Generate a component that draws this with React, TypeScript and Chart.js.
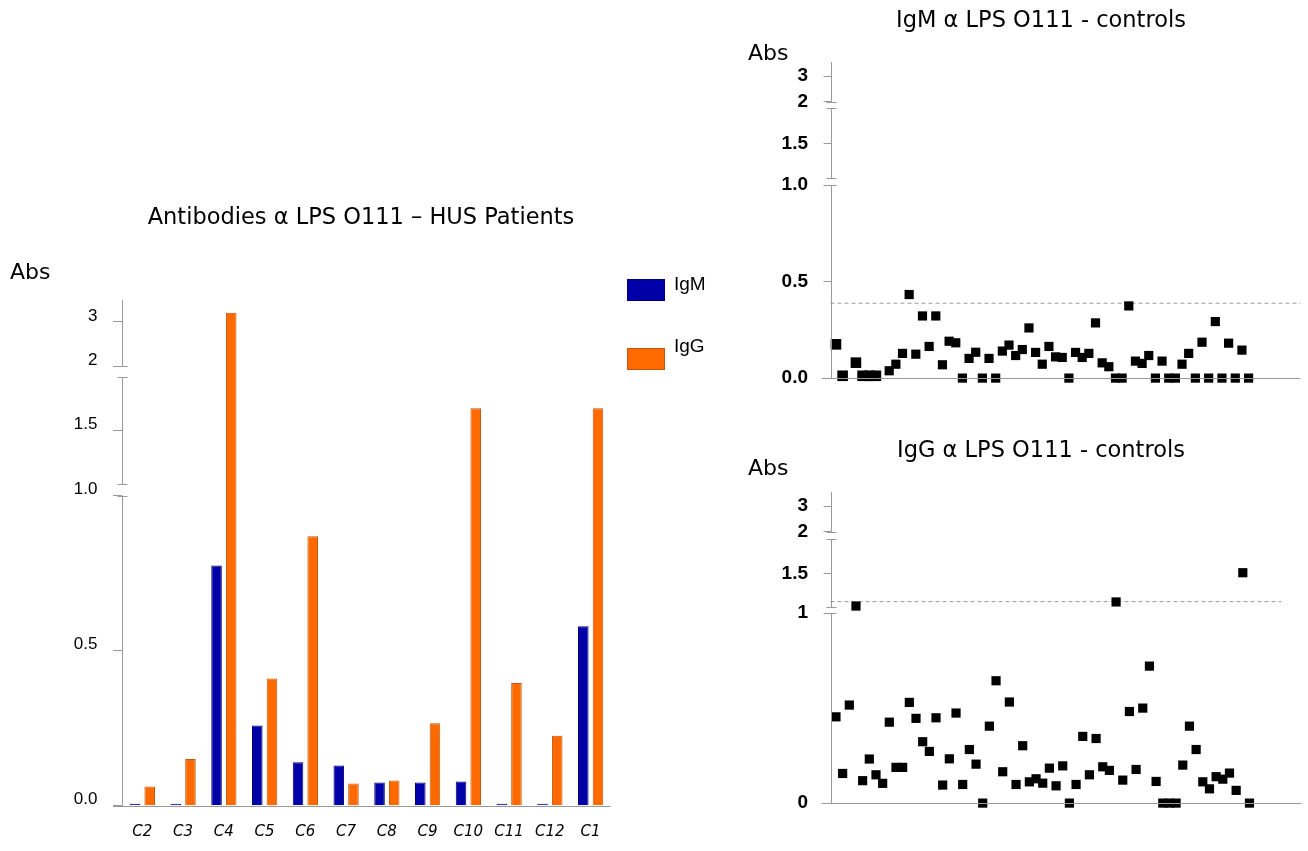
import React, { useEffect, useRef } from 'react';
import { Chart, registerables } from 'chart.js';

Chart.register(...registerables);

// ---------------- DATA ----------------
const patients = ['C2', 'C3', 'C4', 'C5', 'C6', 'C7', 'C8', 'C9', 'C10', 'C11', 'C12', 'C1'];
const patientIgM = [0, 0, 0.775, 0.259, 0.14, 0.13, 0.075, 0.075, 0.078, 0, 0, 0.579];
const patientIgG = [0.062, 0.151, 3.21, 0.41, 0.869, 0.072, 0.081, 0.266, 1.71, 0.396, 0.226, 1.71];

const leftTickValues = [0, 0.5, 1.0, 1.5, 2, 3];
const leftTickLabels = ['0.0', '0.5', '1.0', '1.5', '2', '3'];

// controls, one entry per subject (null = no point)
const controlIgM = [
  0.175, 0.012, null, 0.08, 0.012, 0.012, 0.012, null, 0.038, 0.072,
  0.128, 0.433, 0.124, 0.322, 0.164, 0.322, 0.069, 0.191, 0.183, 0,
  0.102, 0.134, 0, 0.102, 0, 0.14, 0.171, 0.117, 0.148, 0.26,
  0.133, 0.072, 0.164, 0.11, 0.107, 0, 0.133, 0.107, 0.128, 0.286,
  0.079, 0.059, 0, 0, 0.374, 0.088, 0.076, 0.117, 0, 0.088,
  0, 0, 0.072, 0.128, 0, 0.186, 0, 0.293, 0, 0.181,
  0, 0.145, 0,
];
const controlIgG = [
  0.454, 0.156, 0.516, 1.02, 0.118, 0.232, 0.149, 0.104, 0.426, 0.188,
  0.188, 0.53, 0.446, 0.323, 0.272, 0.449, 0.095, 0.233, 0.474, 0.098,
  0.282, 0.205, 0, 0.405, 0.644, 0.165, 0.532, 0.098, 0.302, 0.112,
  0.128, 0.105, 0.184, 0.091, 0.196, 0, 0.098, 0.351, 0.149, 0.34,
  0.191, 0.172, 1.08, 0.121, 0.482, 0.177, 0.5, 0.721, 0.114, 0,
  0, 0, 0.2, 0.405, 0.282, 0.112, 0.075, 0.139, 0.126, 0.158,
  0.067, 1.51, 0,
];
const igmCutoff = 0.388;
const iggCutoff = 1.085;

const igmTickValues = [0, 0.5, 1.0, 1.5, 2, 3];
const igmTickLabels = ['0.0', '0.5', '1.0', '1.5', '2', '3'];
const iggTickValues = [0, 1, 1.5, 2, 3];
const iggTickLabels = ['0', '1', '1.5', '2', '3'];

// ---------------- BROKEN AXIS HELPERS ----------------
type Seg = { v0: number; v1: number; u0: number; u1: number };

const leftSegs: Seg[] = [
  { v0: 0, v1: 1, u0: 0, u1: 310 },
  { v0: 1, v1: 2, u0: 321.7, u1: 428.4 },
  { v0: 2, v1: 3.5, u0: 439.7, u1: 505.7 },
];
const igmSegs: Seg[] = [
  { v0: 0, v1: 1, u0: 0, u1: 193 },
  { v0: 1, v1: 2, u0: 199.7, u1: 269.7 },
  { v0: 2, v1: 3.55, u0: 276.3, u1: 316.1 },
];
const iggSegs: Seg[] = [
  { v0: 0, v1: 1, u0: 0, u1: 190 },
  { v0: 1, v1: 2, u0: 195.7, u1: 263.7 },
  { v0: 2, v1: 3.55, u0: 271.3, u1: 311.1 },
];

function mapper(segs: Seg[]) {
  return (v: number) => {
    for (let i = 0; i < segs.length; i++) {
      const s = segs[i];
      const last = i === segs.length - 1;
      const inSeg = i === 0 ? v <= s.v1 : last ? true : v < s.v1;
      if (inSeg) return s.u0 + ((v - s.v0) * (s.u1 - s.u0)) / (s.v1 - s.v0);
    }
    return 0;
  };
}

type TextItem = { text: string; x: number; y: number; font: string; align?: CanvasTextAlign; baseline?: CanvasTextBaseline };
type BoxItem = { x: number; y: number; w: number; h: number; fill: string; stroke: string };

function axisPlugin(segs: Seg[], axisColor: string, xLeftExt: number, texts: TextItem[], boxes: BoxItem[] = []) {
  return {
    id: 'brokenAxis' + Math.random().toString(36).slice(2),
    afterDraw(chart: any) {
      const { ctx, chartArea, scales } = chart;
      const y = scales.y;
      const x0 = Math.round(chartArea.left) + 0.5;
      ctx.save();
      ctx.strokeStyle = axisColor;
      ctx.lineWidth = 1;
      // axis segments
      segs.forEach((s) => {
        ctx.beginPath();
        ctx.moveTo(x0, y.getPixelForValue(s.u0));
        ctx.lineTo(x0, y.getPixelForValue(s.u1));
        ctx.stroke();
      });
      // break markers
      for (let i = 0; i < segs.length - 1; i++) {
        [segs[i].u1, segs[i + 1].u0].forEach((u) => {
          const py = Math.round(y.getPixelForValue(u)) + 0.5;
          ctx.beginPath();
          ctx.moveTo(x0 - 5, py);
          ctx.lineTo(x0 + 5, py);
          ctx.stroke();
        });
      }
      // x axis line
      const by = Math.round(y.getPixelForValue(0)) + 0.5;
      ctx.beginPath();
      ctx.moveTo(chartArea.left - xLeftExt, by);
      ctx.lineTo(chartArea.right, by);
      ctx.stroke();
      // legend boxes
      boxes.forEach((b) => {
        ctx.fillStyle = b.fill;
        ctx.fillRect(b.x, b.y, b.w, b.h);
        ctx.strokeStyle = b.stroke;
        ctx.strokeRect(b.x + 0.5, b.y + 0.5, b.w - 1, b.h - 1);
      });
      // texts
      ctx.fillStyle = '#000';
      texts.forEach((t) => {
        ctx.font = t.font;
        ctx.textAlign = t.align || 'left';
        ctx.textBaseline = t.baseline || 'middle';
        ctx.fillText(t.text, t.x, t.y);
      });
      ctx.restore();
    },
  };
}

const COMIC = '"DejaVu Sans", sans-serif';
const TITLE_FONT = `22.5px ${COMIC}`;
const ABS_FONT = `22px ${COMIC}`;

const BLUE = '#0000A8';
const BLUE_EDGE = '#00007A';
const ORANGE = '#FF6A00';
const ORANGE_EDGE = '#C0580F';

function leftConfig(): any {
  const toU = mapper(leftSegs);
  return {
    type: 'bar',
    data: {
      labels: patients,
      datasets: [
        {
          label: 'IgM',
          data: patientIgM.map(toU),
          backgroundColor: BLUE,
          borderColor: BLUE_EDGE,
          borderWidth: 1,
          minBarLength: 2,
          categoryPercentage: 0.72,
          barPercentage: 0.72,
        },
        {
          label: 'IgG',
          data: patientIgG.map(toU),
          backgroundColor: ORANGE,
          borderColor: ORANGE_EDGE,
          borderWidth: 1,
          categoryPercentage: 0.72,
          barPercentage: 0.72,
        },
      ],
    },
    options: {
      responsive: false,
      animation: false,
      layout: { padding: { left: 22, right: 119, top: 110, bottom: 5.3 } },
      plugins: { legend: { display: false }, tooltip: { enabled: false }, title: { display: false } },
      scales: {
        x: {
          type: 'category',
          offset: true,
          border: { display: false },
          grid: { display: false, drawTicks: false },
          ticks: { padding: 17, color: '#000', font: { family: COMIC, style: 'italic', size: 15 }, maxRotation: 0, autoSkip: false },
          afterFit: (s: any) => { s.height = 40; },
        },
        y: {
          type: 'linear',
          min: 0,
          max: leftSegs[leftSegs.length - 1].u1,
          border: { display: false },
          grid: { drawOnChartArea: false, drawTicks: true, tickLength: 9, color: '#999' },
          ticks: {
            autoSkip: false,
            padding: 15.5,
            labelOffset: -6,
            color: '#000',
            font: { family: '"Liberation Sans", Arial, sans-serif', size: 17 },
            callback: (_v: any, i: number) => leftTickLabels[i],
          },
          afterBuildTicks: (s: any) => { s.ticks = leftTickValues.map((v) => ({ value: toU(v) })); },
          afterFit: (s: any) => { s.width = 100; },
        },
      },
    },
    plugins: [
      axisPlugin(
        leftSegs,
        '#999',
        9,
        [
          { text: 'Antibodies \u03B1 LPS O111 \u2013 HUS Patients', x: 361, y: 28, font: TITLE_FONT, align: 'center' },
          { text: 'Abs', x: 10, y: 83, font: ABS_FONT },
          { text: 'IgM', x: 674, y: 100, font: '19px "Liberation Sans", Arial, sans-serif', baseline: 'alphabetic' },
          { text: 'IgG', x: 674, y: 162, font: '19px "Liberation Sans", Arial, sans-serif', baseline: 'alphabetic' },
        ],
        [
          { x: 627, y: 89, w: 38, h: 22, fill: BLUE, stroke: BLUE_EDGE },
          { x: 627, y: 158, w: 38, h: 22, fill: ORANGE, stroke: ORANGE_EDGE },
        ],
      ),
    ],
  };
}

const X_MIN = -0.82;
const X_MAX = 69.8;

function controlConfig(
  values: (number | null)[],
  segs: Seg[],
  tickValues: number[],
  tickLabels: string[],
  cutoff: number,
  cutoffEnd: number,
  title: string,
  canvasH: number,
  bigFirst: boolean,
): any {
  const toU = mapper(segs);
  const pts: { x: number; y: number }[] = [];
  values.forEach((v, i) => {
    if (v !== null) pts.push({ x: i, y: toU(v) });
  });
  const areaH = segs[segs.length - 1].u1;
  return {
    type: 'scatter',
    data: {
      datasets: [
        {
          type: 'scatter',
          data: pts,
          pointStyle: 'rect',
          pointRadius: (c: any) => (bigFirst && c.raw && c.raw.x < 7 ? 7.5 : 6.5),
          pointBackgroundColor: '#000',
          pointBorderColor: '#000',
          pointBorderWidth: 0,
          clip: false,
          order: 1,
        },
        {
          type: 'line',
          data: [
            { x: X_MIN, y: toU(cutoff) },
            { x: cutoffEnd, y: toU(cutoff) },
          ],
          borderColor: '#999',
          borderWidth: 1,
          borderDash: [4, 3],
          pointRadius: 0,
          clip: false,
          order: 2,
        },
      ],
    },
    options: {
      responsive: false,
      animation: false,
      layout: { padding: { left: 10.5, right: 3, top: 62, bottom: canvasH - 62 - areaH } },
      plugins: { legend: { display: false }, tooltip: { enabled: false } },
      scales: {
        x: { type: 'linear', min: X_MIN, max: X_MAX, display: false },
        y: {
          type: 'linear',
          min: 0,
          max: areaH,
          border: { display: false },
          grid: { drawOnChartArea: false, drawTicks: true, tickLength: 7, color: '#999' },
          ticks: {
            autoSkip: false,
            padding: 15.5,
            color: '#000',
            font: { family: '"Liberation Sans", Arial, sans-serif', size: 19, weight: 'bold' },
            callback: (_v: any, i: number) => tickLabels[i],
          },
          afterBuildTicks: (s: any) => { s.ticks = tickValues.map((v) => ({ value: toU(v) })); },
          afterFit: (s: any) => { s.width = 80; },
        },
      },
    },
    plugins: [
      axisPlugin(segs, '#999', 9, [
        { text: title, x: 301, y: 21, font: TITLE_FONT, align: 'center' },
        { text: 'Abs', x: 8, y: title.startsWith('IgM') ? 54 : 39, font: ABS_FONT },
      ]),
    ],
  };
}

export default function App() {
  const leftRef = useRef<HTMLCanvasElement>(null);
  const topRef = useRef<HTMLCanvasElement>(null);
  const botRef = useRef<HTMLCanvasElement>(null);

  useEffect(() => {
    const charts: Chart[] = [];
    if (leftRef.current) charts.push(new Chart(leftRef.current, leftConfig()));
    if (topRef.current)
      charts.push(
        new Chart(
          topRef.current,
          controlConfig(controlIgM, igmSegs, igmTickValues, igmTickLabels, igmCutoff, X_MAX, 'IgM \u03B1 LPS O111 - controls', 425, true),
        ),
      );
    if (botRef.current)
      charts.push(
        new Chart(
          botRef.current,
          controlConfig(controlIgG, iggSegs, iggTickValues, iggTickLabels, iggCutoff, 66.8, 'IgG \u03B1 LPS O111 - controls', 421, false),
        ),
      );
    return () => charts.forEach((c) => c.destroy());
  }, []);

  return (
    <div style={{ position: 'absolute', left: 0, top: 0, width: 1308, height: 851, background: '#fff' }}>
      <canvas ref={leftRef} width={730} height={661} style={{ position: 'absolute', left: 0, top: 190 }} />
      <canvas ref={topRef} width={568} height={425} style={{ position: 'absolute', left: 740, top: 0 }} />
      <canvas ref={botRef} width={568} height={421} style={{ position: 'absolute', left: 740, top: 430 }} />
    </div>
  );
}
